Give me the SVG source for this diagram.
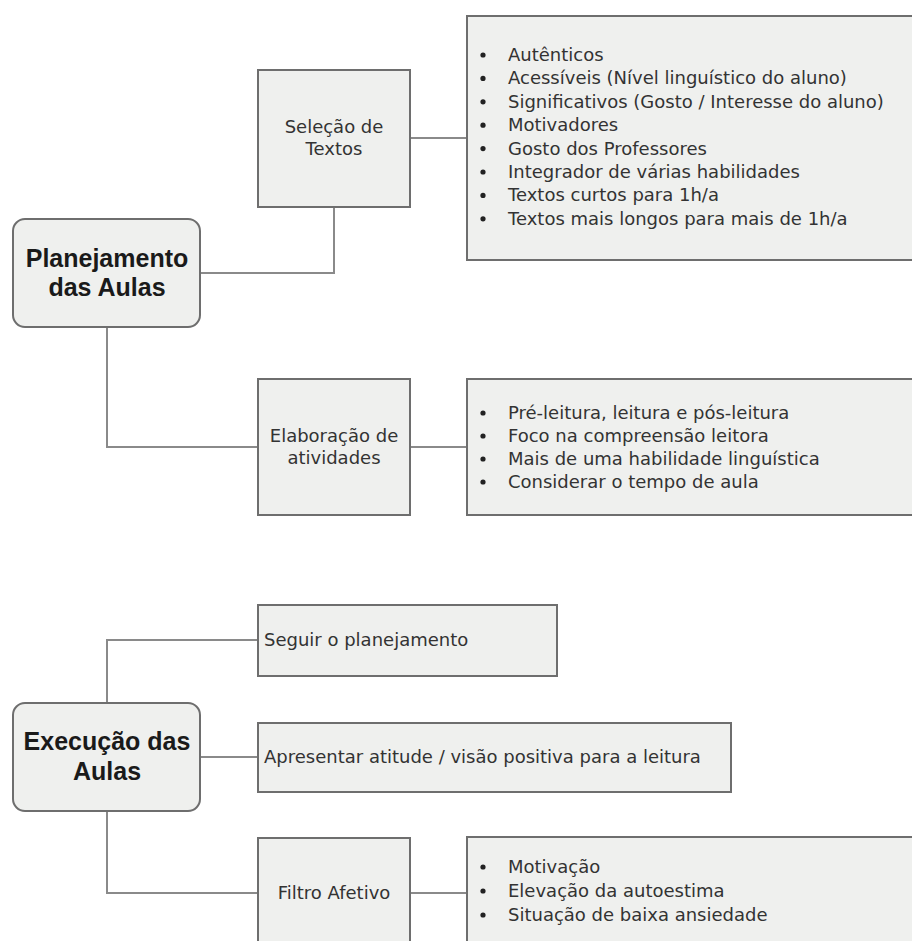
<svg xmlns="http://www.w3.org/2000/svg" width="912" height="941" viewBox="0 0 912 941">
<style>
.box{fill:#eff0ee;stroke:#6e6e6e;stroke-width:2}
.con{fill:none;stroke:#8a8a8a;stroke-width:2}
.t{font-family:"DejaVu Sans","Liberation Sans",sans-serif;font-size:18px;fill:#333}
.c{text-anchor:middle}
.h{font-family:"Liberation Sans",Arial,sans-serif;font-size:25px;font-weight:bold;fill:#1a1a1a;text-anchor:middle}
.dot{fill:#222}
</style>
<rect width="912" height="941" fill="#ffffff"/>
<g id="connectors">
<path class="con" d="M200 273 H334 V207"/>
<path class="con" d="M107 327 V447 H258"/>
<path class="con" d="M410 138 H467"/>
<path class="con" d="M410 447 H467"/>
<path class="con" d="M107 703 V640 H258"/>
<path class="con" d="M200 757 H258"/>
<path class="con" d="M107 811 V893 H258"/>
<path class="con" d="M410 893 H467"/>
</g>
<g id="planejamento">
<rect class="box" x="13" y="219" width="187" height="108" rx="12"/>
<text class="h" x="107" y="267">Planejamento</text>
<text class="h" x="107" y="296">das Aulas</text>
</g>
<g id="selecao">
<rect class="box" x="258" y="70" width="152" height="137"/>
<text class="t c" x="334" y="133">Seleção de</text>
<text class="t c" x="334" y="155">Textos</text>
</g>
<g id="selecao-lista">
<rect class="box" x="467" y="16" width="460" height="244"/>
<circle class="dot" cx="483" cy="55" r="2.6"/>
<circle class="dot" cx="483" cy="78.4" r="2.6"/>
<circle class="dot" cx="483" cy="101.8" r="2.6"/>
<circle class="dot" cx="483" cy="125.2" r="2.6"/>
<circle class="dot" cx="483" cy="148.6" r="2.6"/>
<circle class="dot" cx="483" cy="172" r="2.6"/>
<circle class="dot" cx="483" cy="195.4" r="2.6"/>
<circle class="dot" cx="483" cy="218.8" r="2.6"/>
<text class="t" x="508" y="61">Autênticos</text>
<text class="t" x="508" y="84.4">Acessíveis (Nível linguístico do aluno)</text>
<text class="t" x="508" y="107.8">Significativos (Gosto / Interesse do aluno)</text>
<text class="t" x="508" y="131.2">Motivadores</text>
<text class="t" x="508" y="154.6">Gosto dos Professores</text>
<text class="t" x="508" y="178">Integrador de várias habilidades</text>
<text class="t" x="508" y="201.4">Textos curtos para 1h/a</text>
<text class="t" x="508" y="224.8">Textos mais longos para mais de 1h/a</text>
</g>
<g id="elaboracao">
<rect class="box" x="258" y="379" width="152" height="136"/>
<text class="t c" x="334" y="442">Elaboração de</text>
<text class="t c" x="334" y="464">atividades</text>
</g>
<g id="elaboracao-lista">
<rect class="box" x="467" y="379" width="460" height="136"/>
<circle class="dot" cx="483" cy="413" r="2.6"/>
<circle class="dot" cx="483" cy="436" r="2.6"/>
<circle class="dot" cx="483" cy="459" r="2.6"/>
<circle class="dot" cx="483" cy="482" r="2.6"/>
<text class="t" x="508" y="419">Pré-leitura, leitura e pós-leitura</text>
<text class="t" x="508" y="442">Foco na compreensão leitora</text>
<text class="t" x="508" y="465">Mais de uma habilidade linguística</text>
<text class="t" x="508" y="488">Considerar o tempo de aula</text>
</g>
<g id="execucao">
<rect class="box" x="13" y="703" width="187" height="108" rx="12"/>
<text class="h" x="107" y="750">Execução das</text>
<text class="h" x="107" y="780">Aulas</text>
</g>
<g id="seguir">
<rect class="box" x="258" y="605" width="299" height="71"/>
<text class="t" x="264" y="646">Seguir o planejamento</text>
</g>
<g id="apresentar">
<rect class="box" x="258" y="723" width="473" height="69"/>
<text class="t" x="264" y="763">Apresentar atitude / visão positiva para a leitura</text>
</g>
<g id="filtro">
<rect class="box" x="258" y="838" width="152" height="120"/>
<text class="t c" x="334" y="899">Filtro Afetivo</text>
</g>
<g id="filtro-lista">
<rect class="box" x="467" y="837" width="460" height="120"/>
<circle class="dot" cx="483" cy="867" r="2.6"/>
<circle class="dot" cx="483" cy="891" r="2.6"/>
<circle class="dot" cx="483" cy="915" r="2.6"/>
<text class="t" x="508" y="873">Motivação</text>
<text class="t" x="508" y="897">Elevação da autoestima</text>
<text class="t" x="508" y="921">Situação de baixa ansiedade</text>
</g>
</svg>
